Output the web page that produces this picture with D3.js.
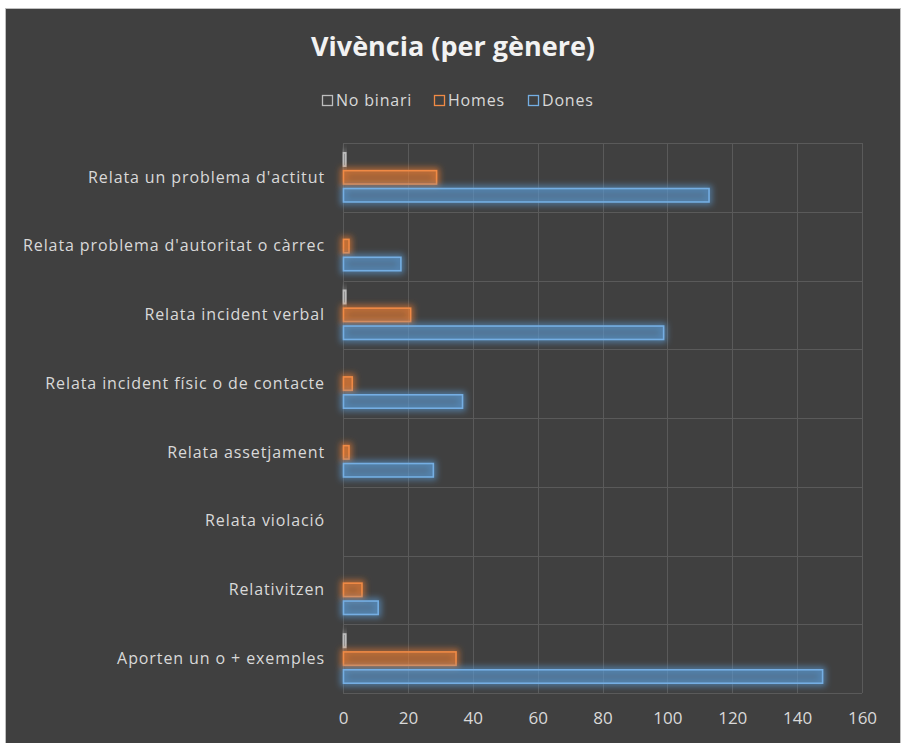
<!DOCTYPE html>
<html><head><meta charset="utf-8">
<script src="https://cdn.jsdelivr.net/npm/d3@7/dist/d3.min.js"></script>
<style>
html,body{margin:0;padding:0;background:#ffffff;}
svg{display:block;}
text{font-family:"Open Sans","Noto Sans",sans-serif;}
</style></head>
<body>
<svg id="chart" width="905" height="743"></svg>
<script>
const categories = ["Relata un problema d'actitut","Relata problema d'autoritat o càrrec","Relata incident verbal","Relata incident físic o de contacte","Relata assetjament","Relata violació","Relativitzen","Aporten un o + exemples"];
const seriesNames = ["No binari","Homes","Dones"];
const noBinari = [1,0,1,0,0,0,0,1];
const homes = [29,2,21,3,2,0,6,35];
const dones = [113,18,99,37,28,0,11,148];
const xTicks = [0,20,40,60,80,100,120,140,160];
const titleText = "Vivència (per gènere)";

const colors = {"No binari":"#a5a5a5","Homes":"#ed7d31","Dones":"#5b9bd5"};
const strokes = {"No binari":"#bdbdbd","Homes":"#f08a45","Dones":"#74aee3"};
const seriesData = {"No binari":noBinari,"Homes":homes,"Dones":dones};

const svg = d3.select("#chart");
// background
svg.append("rect").attr("x",0).attr("y",0).attr("width",905).attr("height",743).attr("fill","#ffffff");
svg.append("rect").attr("x",5.5).attr("y",8.5).attr("width",895).attr("height",740).attr("fill","#404040").attr("stroke","#bfbfbf").attr("stroke-width",1);

const defs = svg.append("defs");
Object.entries(colors).forEach(([k,c],i)=>{
  const f = defs.append("filter").attr("id","glow"+i).attr("x","-50%").attr("y","-100%").attr("width","200%").attr("height","300%");
  f.append("feMorphology").attr("in","SourceAlpha").attr("operator","dilate").attr("radius",1.5).attr("result","d");
  f.append("feGaussianBlur").attr("in","d").attr("stdDeviation",3).attr("result","b");
  f.append("feFlood").attr("flood-color",c).attr("flood-opacity",0.7).attr("result","c");
  f.append("feComposite").attr("in","c").attr("in2","b").attr("operator","in").attr("result","g");
  const m = f.append("feMerge");
  m.append("feMergeNode").attr("in","g");
  m.append("feMergeNode").attr("in","SourceGraphic");
});

const pLeft = 343, pRight = 862, pTop = 143, pBottom = 693;
const x = d3.scaleLinear().domain([0,160]).range([pLeft,pRight]);
const y = d3.scaleBand().domain(categories).range([pTop,pBottom]).padding(0);
const ys = d3.scaleBand().domain(seriesNames).range([8, y.bandwidth()-8]).paddingInner(0.25).paddingOuter(0.1);

// gridlines
const grid = svg.append("g");
grid.selectAll("line.v").data(xTicks).join("line")
  .attr("x1",d=>Math.round(x(d))+0.5).attr("x2",d=>Math.round(x(d))+0.5).attr("y1",pTop).attr("y2",pBottom)
  .attr("stroke","#5a5a5a").attr("stroke-width",1);
const hb = categories.map(c=>y(c)).concat([pBottom]);
grid.selectAll("line.h").data(hb).join("line")
  .attr("x1",pLeft).attr("x2",pRight).attr("y1",d=>Math.round(d)+0.5).attr("y2",d=>Math.round(d)+0.5)
  .attr("stroke","#5a5a5a").attr("stroke-width",1);

// bars
seriesNames.forEach((s,i)=>{
  const vals = seriesData[s];
  const g = svg.append("g").attr("filter","url(#glow"+i+")");
  g.selectAll("rect").data(categories.map((c,j)=>({c,v:vals[j]})).filter(d=>d.v>0)).join("rect")
    .attr("x",x(0)+0.5)
    .attr("y",d=>y(d.c)+ys(s))
    .attr("width",d=>Math.max(0,x(d.v)-x(0)-1))
    .attr("height",ys.bandwidth())
    .attr("fill",colors[s]).attr("fill-opacity",0.38)
    .attr("stroke",strokes[s]).attr("stroke-width",1.6);
});

// x axis labels
const xAxis = d3.axisBottom(x).tickValues(xTicks).tickSize(0).tickPadding(19);
const xa = svg.append("g").attr("transform",`translate(0,${pBottom})`).call(xAxis);
xa.select(".domain").remove();
xa.selectAll("text").attr("fill","#d9d9d9").attr("font-size",17).attr("font-family","'Open Sans',sans-serif");

// y axis labels
const yAxis = d3.axisLeft(y).tickSize(0).tickPadding(18);
const ya = svg.append("g").attr("transform",`translate(${pLeft},0)`).call(yAxis);
ya.select(".domain").remove();
ya.selectAll("text").attr("fill","#d9d9d9").attr("font-size",16).attr("letter-spacing","0.9px").attr("font-family","'Open Sans',sans-serif");

// title
svg.append("text").attr("x",453).attr("y",56).attr("text-anchor","middle")
  .attr("fill","#f2f2f2").attr("font-size",27).attr("font-weight","bold").text(titleText);

// legend
const legendX = [322,434,528];
const lg = svg.append("g");
seriesNames.forEach((s,i)=>{
  lg.append("rect").attr("x",legendX[i]+0.5).attr("y",95.5).attr("width",10).attr("height",10)
    .attr("fill","none").attr("stroke",strokes[s]).attr("stroke-width",1.3);
  lg.append("text").attr("x",legendX[i]+14).attr("y",106).attr("fill","#d9d9d9").attr("font-size",16).attr("letter-spacing","0.8px").text(s);
});
</script>
</body></html>
